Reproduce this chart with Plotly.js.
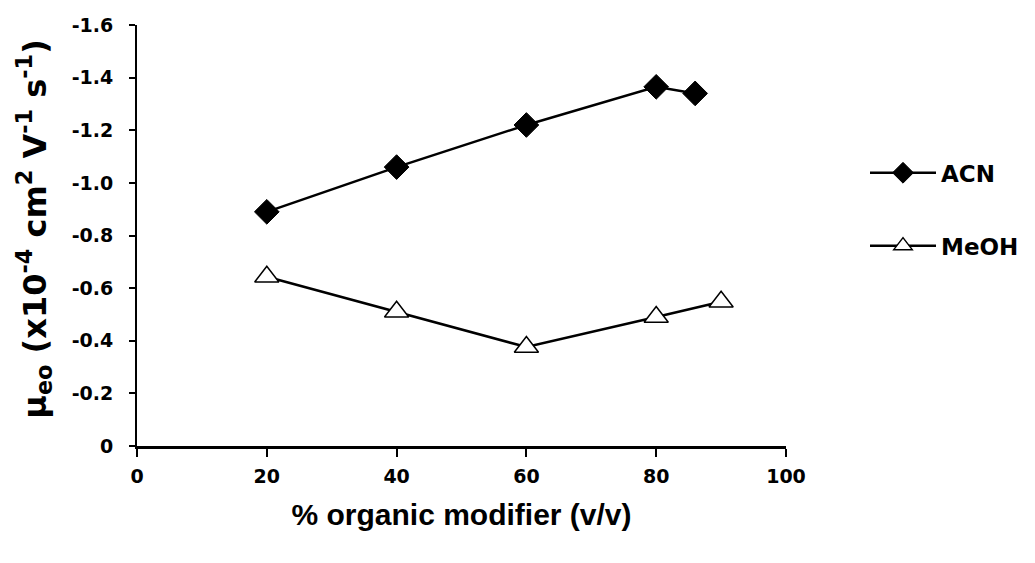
<!DOCTYPE html>
<html>
<head>
<meta charset="utf-8">
<script src="https://cdn.plot.ly/plotly-3.0.1.min.js"></script>
<style>html,body{margin:0;padding:0;background:#fff;}#chart{width:1035px;height:563px;}</style>
</head>
<body>
<div id="chart"></div>
<script>
const acnX = [20, 40, 60, 80, 86];
const acnY = [-0.89, -1.06, -1.22, -1.365, -1.34];
const meohX = [20, 40, 60, 80, 90];
const meohY = [-0.643, -0.51, -0.376, -0.49, -0.548];
const yTickVals = [0, -0.2, -0.4, -0.6, -0.8, -1.0, -1.2, -1.4, -1.6];
const yTickText = ['0', '-0.2', '-0.4', '-0.6', '-0.8', '-1.0', '-1.2', '-1.4', '-1.6'];
const xTickVals = [0, 20, 40, 60, 80, 100];
const yTitle = 'μ<sub>eo</sub> (x10<sup>-4</sup> cm<sup>2</sup> V<sup>-1</sup> s<sup>-1</sup>)';

const F = 'Liberation Sans, Arial, sans-serif';
const D = 'DejaVu Sans, sans-serif';

const traces = [
  {x: acnX, y: acnY, name: 'ACN', mode: 'lines+markers', legendgroup: 'a',
   line: {color: '#000', width: 2.5},
   marker: {symbol: 'diamond', size: 19, color: '#000', line: {color: '#000', width: 1}}},
  {x: meohX, y: meohY, name: 'MeOH', mode: 'lines+markers', legendgroup: 'b',
   line: {color: '#000', width: 2.5},
   marker: {symbol: 'triangle-up', size: 21, color: '#fff', line: {color: '#000', width: 1.5}}}
];

const layout = {
  width: 1035, height: 563,
  margin: {l: 137, r: 248, t: 25, b: 117},
  paper_bgcolor: '#fff', plot_bgcolor: '#fff',
  font: {family: D, color: '#000', size: 19, weight: 'bold'},
  showlegend: true,
  legend: {x: 1.12, y: 0.70, xanchor: 'left', yanchor: 'top',
           font: {family: D, size: 23, weight: 'bold', color: '#000'},
           itemwidth: 66,
           tracegroupgap: 40, traceorder: 'grouped', bgcolor: 'rgba(0,0,0,0)'},
  xaxis: {range: [0, 100], tickvals: xTickVals, showgrid: false, zeroline: false,
          showline: true, linecolor: '#000', linewidth: 2.5,
          ticks: 'outside', ticklen: 8, tickwidth: 2, tickcolor: '#000',
          ticklabelstandoff: 4,
          tickfont: {family: D, size: 19, weight: 'bold'},
          title: {text: '% organic modifier (v/v)', standoff: 18,
                  font: {family: F, size: 30, weight: 'bold'}}},
  yaxis: {range: [0, -1.6], tickvals: yTickVals, ticktext: yTickText, showgrid: false, zeroline: false,
          showline: true, linecolor: '#000', linewidth: 2,
          ticks: 'outside', ticklen: 6, tickwidth: 2, tickcolor: '#000',
          ticklabelstandoff: 12,
          tickfont: {family: D, size: 19, weight: 'bold'}},
  annotations: [{text: yTitle, xref: 'paper', yref: 'paper', x: -0.158, y: 0.515,
                 xanchor: 'center', yanchor: 'middle', textangle: -90, showarrow: false,
                 font: {family: D, size: 32, weight: 'bold', color: '#000'}}]
};

Plotly.newPlot('chart', traces, layout, {displayModeBar: false, staticPlot: true});
</script>
</body>
</html>
